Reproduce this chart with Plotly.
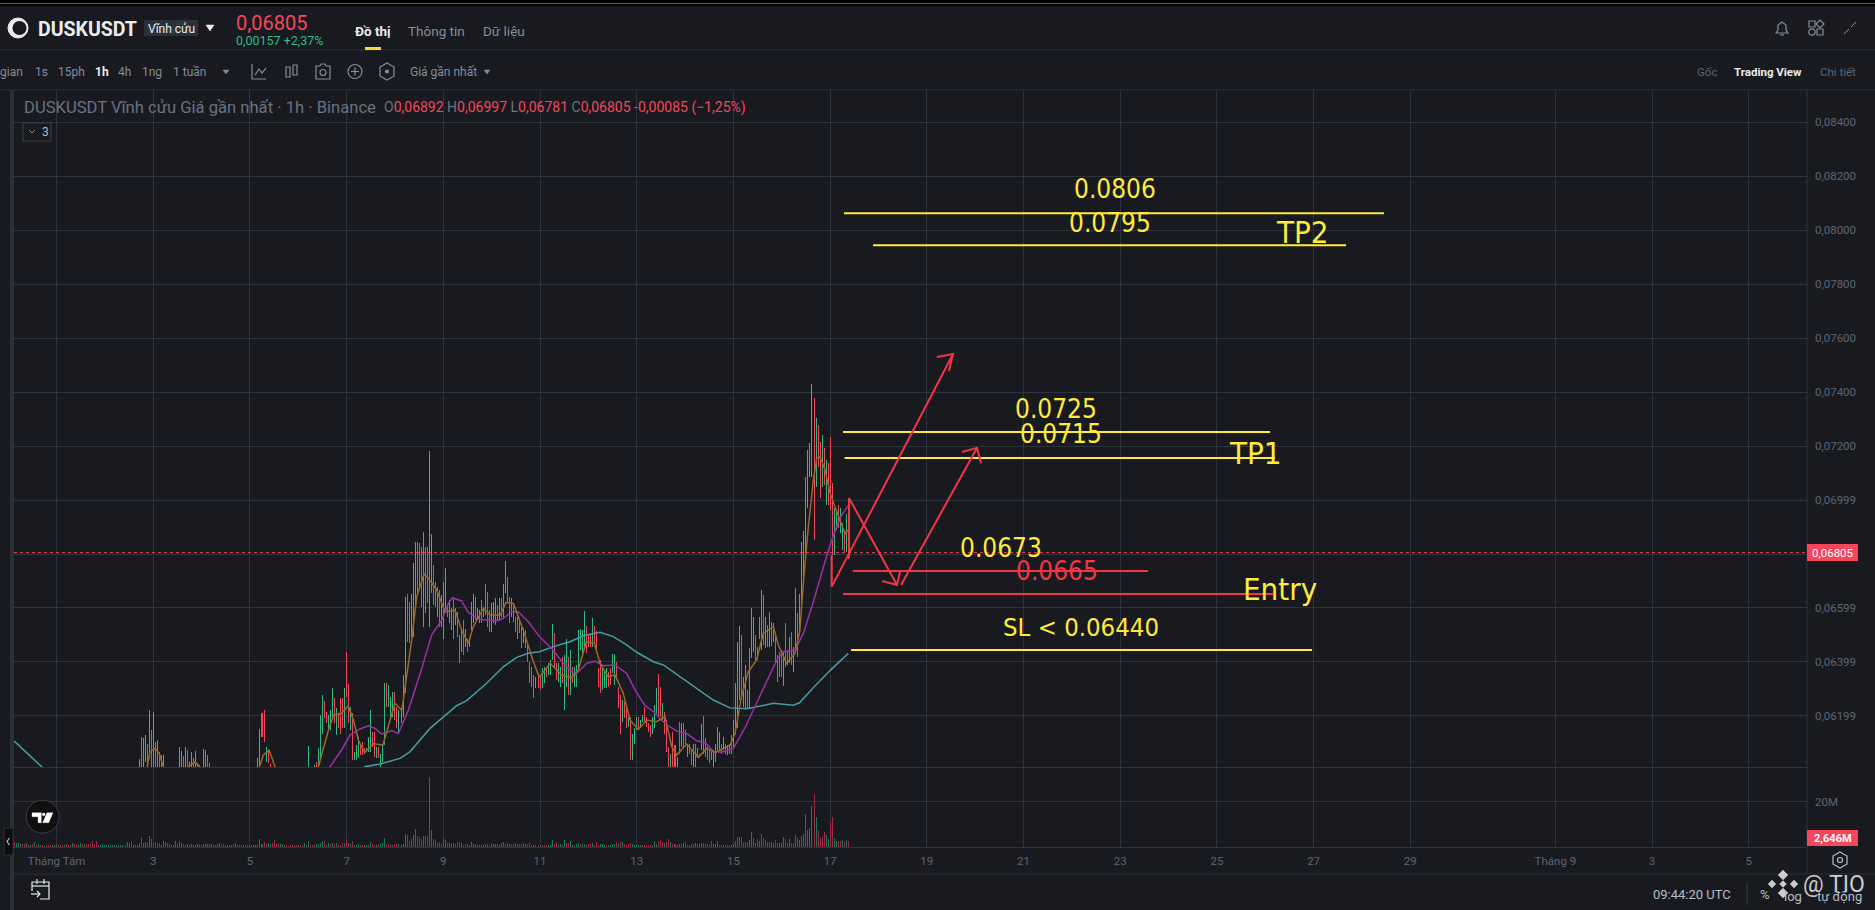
import pandas as pd
import plotly.graph_objects as go

W, H = 1875, 910
UI = "Roboto"
DRAW = "DejaVu Sans Condensed"
BG = "#181a20"
GRID = "#2d333d"
GREY = "#848e9c"
DIM = "#5e6673"
UP = "rgba(46,189,133,0.99)"
DOWN = "#f6465d"
DOWN_BAR = "rgba(246,70,93,0.99)"
VOL_UP = "rgba(28,122,92,0.99)"
VOL_DOWN = "rgba(158,42,68,0.99)"
YEL = "#ffeb3b"
RED = "#f23645"

# Hourly candles from 2025-08-02 17:00 to 2025-08-17 09:00, prices in 1e-5 USDT
candle_start = "2025-08-02 17:00"
highs = [
 6039,6121,6117,6129,6096,6222,6148,6215,6105,6111,
 6068,6055,6055,5990,5990,5990,5990,5990,5990,5990,
 6084,6070,6052,6086,6074,6030,6068,6043,6070,6024,
 6018,5990,6077,6074,6055,6024,5990,5990,5990,5990,
 5990,5990,5990,5990,5990,5990,5990,5990,5990,5990,
 5990,5990,5990,5990,5990,5990,5990,5990,5990,6043,
 6151,6210,6222,6086,6074,6021,5990,5990,5990,5990,
 5990,5990,5990,5990,5990,5990,5990,5990,5990,5990,
 5990,5990,5990,5990,6089,5990,5990,6018,6030,6080,
 6203,6277,6255,6216,6203,6222,6302,6268,6228,6210,
 6265,6268,6302,6436,6318,6234,6210,6068,6092,6123,
 6098,6105,6080,6080,6123,6222,6142,6142,6086,6086,
 6061,6098,6324,6321,6315,6271,6290,6287,6234,6222,
 6228,6352,6642,6652,6623,6652,6765,6846,6846,6840,
 6827,6883,6827,6827,7181,6874,6759,6697,6679,6666,
 6648,6697,6747,6605,6630,6599,6636,6599,6586,6500,
 6518,6555,6521,6487,6494,6623,6652,6642,6599,6592,
 6630,6605,6689,6660,6592,6617,6623,6636,6611,6636,
 6636,6689,6774,6713,6642,6636,6617,6568,6586,6555,
 6531,6525,6518,6469,6401,6382,6352,6345,6358,6352,
 6376,6382,6376,6395,6407,6541,6506,6395,6395,6382,
 6419,6426,6484,6419,6444,6382,6382,6389,6518,6521,
 6518,6589,6533,6500,6506,6562,6533,6516,6376,6407,
 6376,6370,6376,6364,6376,6429,6429,6401,6308,6277,
 6259,6253,6240,6197,6197,6135,6154,6197,6197,6185,
 6203,6234,6197,6173,6166,6197,6240,6302,6354,6308,
 6247,6216,6185,6086,6061,6142,6092,6049,6179,6173,
 6175,6148,6098,6098,6074,6098,6098,6080,6061,6170,
 6200,6117,6086,6074,6074,6074,6098,6158,6142,6098,
 6123,6098,6092,6096,6129,6185,6321,6475,6533,6500,
 6345,6389,6296,6451,6599,6568,6500,6457,6568,6667,
 6648,6568,6537,6586,6549,6543,6500,6426,6438,6444,
 6438,6543,6444,6494,6512,6457,6673,6580,6652,6845,
 6885,7086,7185,7210,7430,7377,7302,7278,7216,7241,
 7191,7148,7136,7234,7062,6969,6963,6981,6969,6913,
 6889,6948,6997]
lows = [
 5990,5990,5995,6030,6000,6043,6000,6000,6000,6000,
 6000,6000,6000,5950,5950,5950,5950,5950,5950,5950,
 6000,6000,6000,6000,6000,6000,6000,6000,6000,6000,
 6000,5950,6000,6000,6000,6000,5950,5950,5950,5950,
 5950,5950,5950,5950,5950,5950,5950,5950,5950,5950,
 5950,5950,5950,5950,5950,5950,5950,5950,5950,5990,
 5990,6123,6105,6030,6024,6000,5950,5950,5950,5950,
 5950,5950,5950,5950,5950,5950,5950,5950,5950,5950,
 5950,5950,5950,5950,5990,5950,5950,5990,5990,5990,
 6037,6135,6191,6175,6142,6148,6197,6173,6129,6154,
 6135,6154,6154,6271,6173,6148,6037,6037,6037,6043,
 6055,6055,6061,6068,6068,6068,6086,6049,6043,6043,
 6000,6030,6092,6234,6234,6185,6197,6185,6154,6135,
 6173,6197,6284,6475,6469,6494,6494,6592,6654,6666,
 6605,6531,6580,6617,6531,6654,6611,6605,6568,6531,
 6531,6485,6593,6568,6545,6518,6485,6537,6494,6395,
 6438,6426,6457,6438,6457,6518,6543,6555,6555,6543,
 6543,6568,6574,6531,6512,6512,6543,6537,6555,6553,
 6568,6561,6654,6617,6543,6568,6549,6512,6484,6506,
 6450,6469,6450,6401,6321,6308,6268,6302,6302,6296,
 6302,6321,6345,6352,6352,6407,6382,6333,6327,6308,
 6321,6222,6308,6277,6277,6321,6308,6308,6370,6444,
 6426,6457,6432,6457,6457,6457,6463,6432,6308,6286,
 6296,6302,6302,6308,6315,6358,6315,6339,6228,6132,
 6179,6191,6154,6160,6037,6037,6098,6148,6154,6154,
 6179,6179,6160,6142,6123,6135,6154,6203,6197,6197,
 6185,6135,6068,6012,6012,6012,6012,6012,6061,6086,
 6086,6098,6049,6061,6018,6012,6012,6043,6049,6074,
 6061,6049,6037,6024,6037,6012,6030,6074,6074,6061,
 6074,6061,6055,6061,6061,6086,6135,6154,6259,6259,
 6234,6228,6228,6228,6413,6438,6407,6407,6487,6444,
 6463,6450,6457,6457,6459,6475,6395,6327,6345,6345,
 6312,6382,6389,6395,6389,6364,6432,6420,6500,6617,
 6691,6802,6969,7086,7086,6852,7049,7123,7006,7049,
 7055,6981,6981,6963,6796,6796,6889,6895,6876,6815,
 6808,6808,6781]
candle_dir = list(
 "grggrgrgrg" "rrgrgrgrgr" "ggrgrggrgr" "rgggrrgrgr" "grgrgrgrgr" "grgrgrgrgg"
 "grrgrrgrgr" "grgrgrgrgr" "grgrgrggrg" "ggrrgggrgr" "rrgrrgrggg" "rrrgggrrgr"
 "gggrgggrrg" "gggrrgggrr" "rgrrggrrgr" "gggrggrgrr" "grgrgggrgg" "rgrrrgggrg"
 "rggrrgrrrr" "rgrrrrrgrr" "ggrgggrrgg" "rggrgrgggg" "ggrrrgrrrr" "gggrrggrrr"
 "grrgrgggrg" "grrrrgggrr" "grrrgrrgrg" "rrgrrgrrrg" "rrrrgggggr" "grggrggggr"
 "ggrgggrrgg" "rgrgrgrrrr" "grrgrggrgg" "gggggrgrrg" "rgrrrggrgg" "rgr")

# Hourly volume from 2025-07-31 02:00, in millions
volume_start = "2025-07-31 02:00"
volumes = [
 1.0,2.1,1.8,1.6,1.3,1.2,1.5,1.9,1.0,1.1,
 1.2,2.2,.9,1.3,.8,.7,.6,1.0,1.1,.8,
 .7,.7,1.2,.8,.9,.7,1.0,1.3,1.0,.8,
 1.8,1.3,.9,1.0,1.9,1.2,1.2,1.3,1.2,1.3,
 2.7,.9,2.7,1.0,.7,1.2,1.0,.9,.9,.9,
 .9,.9,1.0,.9,.9,1.0,.9,2.4,1.6,2.7,
 .9,1.0,1.0,1.8,4.5,1.8,2.2,1.7,4.9,3.4,
 1.6,2.2,1.8,1.7,1.0,2.7,2.2,1.8,1.2,.8,
 .7,2.7,1.2,2.7,1.9,1.3,1.1,1.5,1.0,1.3,
 1.0,.8,1.2,.9,.9,1.2,1.3,1.3,1.3,1.3,
 1.0,.9,1.3,1.8,.9,1.2,.8,1.0,1.0,.9,
 1.2,1.8,.7,.7,.7,.7,.7,.7,.7,1.0,
 .9,.8,1.0,3.5,1.3,2.1,1.3,1.6,1.2,1.7,
 3.0,1.2,1.3,1.2,1.2,.9,.7,.6,.8,.8,
 .8,.8,1.0,.9,.9,1.8,.8,2.7,.9,.8,
 1.0,1.3,1.5,2.0,2.7,2.5,1.0,1.8,1.2,1.8,
 1.3,1.8,.9,1.0,1.8,1.8,3.6,1.8,1.5,2.7,
 .9,.9,1.3,.9,.9,.9,.9,.9,2.4,1.2,
 .9,.9,1.3,1.3,1.8,4.0,1.3,1.3,.9,.9,
 1.3,1.3,1.3,.9,1.5,5.8,5.4,2.7,3.6,5.4,
 8.0,5.0,4.5,3.6,5.0,5.0,5.0,31.2,7.6,3.6,
 3.2,1.8,2.2,1.4,3.6,3.2,1.8,1.8,1.4,1.8,
 1.5,2.2,2.2,1.8,.9,1.3,1.3,.9,2.2,1.3,
 1.3,.9,.9,.9,.9,1.3,1.3,.9,1.8,1.3,
 1.3,1.3,.9,1.8,2.2,1.3,1.8,1.3,1.3,1.3,
 1.8,1.3,1.3,1.3,1.8,1.3,1.3,1.8,.9,.9,
 1.0,.9,.9,.9,.9,.9,.9,.9,3.1,1.3,
 2.2,.9,1.3,.9,3.1,1.8,1.8,2.7,.9,.9,
 1.3,1.8,1.3,1.3,1.3,.9,1.3,1.3,1.8,1.0,
 2.2,.9,1.3,1.3,.9,.9,.9,.9,1.3,1.3,
 2.2,1.3,2.2,2.2,1.3,.9,1.3,1.8,1.3,.9,
 .9,.9,.9,.9,.9,.9,.9,.9,.9,2.7,
 1.3,2.7,3.1,2.2,1.8,2.2,3.6,2.2,1.3,1.3,
 .9,1.3,1.3,1.8,2.2,.9,.9,1.3,1.3,1.8,
 1.3,1.3,1.8,1.8,1.3,1.3,1.3,2.7,1.3,1.3,
 2.7,.9,.9,.9,.9,.9,.9,.9,1.3,2.7,
 4.5,4.5,4.5,2.2,2.2,2.2,3.1,6.7,4.0,1.8,
 3.6,2.7,5.8,4.0,3.1,2.2,2.2,2.2,1.8,3.1,
 1.8,1.8,1.8,4.5,3.6,1.8,3.6,1.8,1.8,5.4,
 4.0,3.1,5.0,5.8,14.8,7.6,8.4,18.2,23.7,13.3,
 7.1,4.0,4.5,6.7,5.4,3.6,11.1,13.3,4.0,2.7,
 2.7,2.7,3.1,2.2,3.1,2.65]
volume_dir = list(
 "grgggrrgrg" "rgrgrrgrrr" "ggrgrrgrrr" "grrggrgrrr" "rrrrgggggg" "ggrgggrggr"
 "ggggrggrgg" "rrrrggrrrr" "gggggrrrgg" "grggrggggg" "rrggrrrgrg" "rgrrrrrrrg"
 "gggggrrggr" "rrrggrrrrr" "rrgrrgrgrr" "rggggrggrg" "rgrrrgrrgr" "gggrrggrgr"
 "rgrgggrrgr" "rrggggrrgg" "grrrgrrggr" "rrrrggrggr" "rrrgrrrggg" "rrrrgrrrrg"
 "gggggrrgrr" "rrrrrgrrrg" "rrrgrrgggr" "rggrgrrggr" "ggrggrrrgr" "rrgggrgggg"
 "rgrgrrrrgg" "gggrrrrrrg" "grrrgrrgrr" "ggrgrrrrrg" "rggrrrrrgg" "grrrrrgggg"
 "ggrrrrgggr" "rggrrggggr" "rgggrrgrgg" "ggggggggrg" "rrrrggrrgg" "rrgrgr")

# Moving averages read at knots: hours after 2025-08-01 00:00, prices in 1e-5 USDT
ma7_hours = [45,46.4,49,51,53,54,64,65.5,68.7,71,72,99,100.7,102.7,105.5,108.5,110,128,130,135,137.5,141.5,144.8,147.4,149.8,153,157.3,162,164.7,168,171.4,173.8,176.3,178.8,182.4,184.6,188.7,192.8,197.8,201.1,204.4,206.9,211.9,215.2,220.2,223.1,226.8,231.7,236.7,239.7,245,250.7,255.7,259,263,267,269.8,273.9,277.2,281.3,284.7,288.8,293,297.9,302,305.4,307.8,312.8,318.6,322.7,326.9,334.3,336.8,340,343.4,347.5,350.8,355.8,358.3,362.4,366.6,369,370.7,373.2,375.7,377.3,379,381.5,384,386.4,388.9,391.4,392.9]
ma7_values = [6012,6067,6080,6061,6012,5980,5980,6012,6030,6012,5980,5980,6012,6055,6074,6012,5980,5980,6012,6148,6203,6210,6237,6185,6111,6064,6098,6092,6160,6247,6220,6345,6481,6642,6726,6710,6667,6586,6592,6518,6469,6531,6599,6574,6574,6620,6617,6518,6401,6343,6395,6352,6342,6370,6475,6469,6395,6345,6352,6284,6185,6150,6185,6179,6197,6086,6055,6096,6047,6080,6065,6092,6135,6271,6364,6407,6506,6531,6463,6395,6432,6518,6691,6901,7074,7154,7160,7111,7025,6975,6926,6876,6889]
ma25_hours = [130,135.8,141.5,145.7,150.7,154.8,158.1,161.4,166.4,169.7,174.7,181.3,186.2,191.2,194.5,196.5,201.1,204.4,209.4,218.5,221.8,226,229.2,234.2,239.7,245.8,251.6,257.4,263.2,267.3,271.4,277.2,283,287.2,292,296.9,302,307.8,312.8,317.8,322,326.2,330.4,336,342,347.5,353.3,357.5,360.8,366.6,370.7,375.7,380.7,384.8,388.9,393]
ma25_values = [5980,6012,6074,6129,6152,6164,6154,6133,6145,6135,6222,6376,6500,6555,6617,6638,6626,6583,6558,6553,6562,6586,6586,6549,6494,6450,6395,6352,6395,6403,6386,6389,6358,6296,6240,6212,6172,6144,6135,6108,6101,6067,6067,6080,6160,6247,6345,6407,6438,6444,6506,6623,6753,6852,6932,6981]
ma99_hours = [-21,-7.2,-5,150,153,160.6,170.5,175.5,185.4,192,198.6,203.6,213.5,221.8,228.4,234.2,239.7,246.6,254.9,261.5,269.8,276.4,283,288,296.3,301.2,307.8,319.4,326,334.3,342.6,347.5,355.8,365.7,368.8,375.5,384.2,393]
ma99_values = [6107,6011,5985,5985,6012,6022,6043,6068,6154,6197,6238,6257,6321,6382,6417,6432,6438,6457,6475,6497,6510,6494,6463,6436,6401,6389,6355,6296,6259,6230,6227,6234,6247,6240,6249,6304,6370,6432]

# Hand-drawn levels: price, start, end
level_prices = [8062, 7944, 7252, 7156, 6737, 6652, 6444]
level_starts = ["2025-08-17 06:54","2025-08-17 21:18","2025-08-17 06:24","2025-08-17 07:12","2025-08-17 11:18","2025-08-17 06:24","2025-08-17 10:24"]
level_ends = ["2025-08-28 10:54","2025-08-27 16:06","2025-08-26 02:24","2025-08-26 04:48","2025-08-23 13:48","2025-08-26 03:48","2025-08-26 23:12"]
level_colors = [YEL, YEL, YEL, YEL, RED, RED, YEL]

# Hand-drawn arrows (date, price), each a polyline
arrow_up_long_t = ["2025-08-17 00:48","2025-08-19 13:00","2025-08-19 05:00","2025-08-19 13:00","2025-08-19 11:00"]
arrow_up_long_p = [6679,7541,7530,7541,7478]
arrow_up_short_t = ["2025-08-18 11:12","2025-08-20 00:54","2025-08-19 17:30","2025-08-20 00:54","2025-08-20 02:54"]
arrow_up_short_p = [6685,7193,7178,7193,7137]
arrow_down_t = ["2025-08-17 09:24","2025-08-17 09:24","2025-08-17 09:24","2025-08-18 09:12","2025-08-18 01:48","2025-08-18 09:12","2025-08-18 10:42"]
arrow_down_p = [6785,7007,7007,6685,6700,6685,6733]
stroke_left_t = ["2025-08-17 00:48","2025-08-17 00:48"]
stroke_left_p = [6679,6796]

price_ticks = [8400,8200,8000,7800,7600,7400,7200,7000,6800,6600,6400,6200]
price_labels = ["0,08400","0,08200","0,08000","0,07800","0,07600","0,07400","0,07200","0,06999","0,06799","0,06599","0,06399","0,06199"]
date_ticks = ["2025-08-01","2025-08-03","2025-08-05","2025-08-07","2025-08-09","2025-08-11","2025-08-13","2025-08-15","2025-08-17","2025-08-19","2025-08-21","2025-08-23","2025-08-25","2025-08-27","2025-08-29","2025-09-01","2025-09-03","2025-09-05"]
date_labels = ["Tháng Tám","3","5","7","9","11","13","15","17","19","21","23","25","27","29","Tháng 9","3","5"]

base = pd.Timestamp("2025-08-01")
to_time = lambda hs: [base + pd.Timedelta(hours=h) for h in hs]
candle_x = pd.date_range(candle_start, periods=len(highs), freq="h")
vol_x = pd.date_range(volume_start, periods=len(volumes), freq="h")
BAR_W = 0.5 * 3600 * 1000

fig = go.Figure()
fig.add_trace(go.Bar(x=candle_x, base=lows, y=[h - l for h, l in zip(highs, lows)], width=BAR_W,
                     marker=dict(color=[UP if d == "g" else DOWN_BAR for d in candle_dir], line_width=0),
                     name="DUSKUSDT", xaxis="x", yaxis="y"))
for hs, vs, col in [(ma99_hours, ma99_values, "#459ea3"), (ma25_hours, ma25_values, "#9b2fa8"), (ma7_hours, ma7_values, "#9a6a28")]:
    fig.add_trace(go.Scatter(x=to_time(hs), y=vs, mode="lines", line=dict(color=col, width=1.5), xaxis="x", yaxis="y"))
fig.add_trace(go.Bar(x=vol_x, y=volumes, width=BAR_W,
                     marker=dict(color=[VOL_UP if d == "g" else VOL_DOWN for d in volume_dir], line_width=0),
                     xaxis="x2", yaxis="y2"))
for p, s, e, c in zip(level_prices, level_starts, level_ends, level_colors):
    fig.add_trace(go.Scatter(x=[s, e], y=[p, p], mode="lines", line=dict(color=c, width=2), xaxis="x", yaxis="y"))
for t, p in [(arrow_up_long_t, arrow_up_long_p), (arrow_up_short_t, arrow_up_short_p), (arrow_down_t, arrow_down_p), (stroke_left_t, stroke_left_p)]:
    fig.add_trace(go.Scatter(x=t, y=p, mode="lines", line=dict(color=RED, width=2), xaxis="x", yaxis="y"))

shapes, notes = [], []
px = lambda x: x / W
py = lambda y: 1 - y / H

def line(x0, y0, x1, y1, color=GRID, w=1, dash=None):
    shapes.append(dict(type="line", xref="paper", yref="paper", x0=px(x0), y0=py(y0), x1=px(x1), y1=py(y1),
                       line=dict(color=color, width=w, dash=dash), layer="above"))

def rect(x0, y0, x1, y1, fill, border=None, w=0):
    shapes.append(dict(type="rect", xref="paper", yref="paper", x0=px(x0), y0=py(y0), x1=px(x1), y1=py(y1),
                       fillcolor=fill, line=dict(color=border or fill, width=w), layer="above"))

def circle(cx, cy, r, fill="rgba(0,0,0,0)", border=GREY, w=1.2):
    shapes.append(dict(type="circle", xref="paper", yref="paper", x0=px(cx - r), y0=py(cy + r), x1=px(cx + r), y1=py(cy - r),
                       fillcolor=fill, line=dict(color=border, width=w), layer="above"))

def poly(pts, fill=None, border=GREY, w=1.2, closed=False):
    d = "M" + " L".join(f"{px(a):.5f},{py(b):.5f}" for a, b in pts) + (" Z" if closed else "")
    shapes.append(dict(type="path", xref="paper", yref="paper", path=d, fillcolor=fill or "rgba(0,0,0,0)",
                       line=dict(color=border, width=w), layer="above"))

def text(x, y, s, size=12, color=GREY, anchor="left", family=UI):
    notes.append(dict(xref="paper", yref="paper", x=px(x), y=py(y), text=s, showarrow=False, xanchor=anchor, yanchor="middle",
                      font=dict(size=size, color=color, family=family), borderpad=0, borderwidth=0))

# frame
rect(0, 0, W, 6, "#000000")
line(0, 3.5, W, 3.5, "#5a5f66", 1)
line(0, 50, W, 50, GRID)
line(0, 90, W, 90, GRID)
rect(10, 90, 14, H, "#2b2f36")
line(14, 874, W, 874, "#2b2f36")
line(1807, 90, 1807, 874, GRID)

# header
circle(18, 28, 10, "#eaecef", "#eaecef", 1)
circle(19.5, 28, 7, BG, BG, 0)
text(38, 30, "<b>DUSKUSDT</b>", 19.5, "#eaecef")
rect(144, 20, 198, 36, "#2b3139")
text(171, 29, "Vĩnh cửu", 12, "#eaecef", "center")
poly([(206, 25), (214, 25), (210, 31)], "#eaecef", "#eaecef", 0.5, True)
text(236, 23, "0,06805", 20, DOWN)
text(236, 41, "0,00157 +2,37%", 12.5, "#2ebd85")
text(355, 31, "<b>Đồ thị</b>", 13.5, "#eaecef")
rect(365, 47, 381, 50, "#fcd535")
text(408, 31, "Thông tin", 13.5, GREY)
text(483, 31, "Dữ liệu", 13.5, GREY)

# toolbar
for x, s in [(0, "gian"), (35, "1s"), (58, "15ph"), (118, "4h"), (142, "1ng"), (173, "1 tuần")]:
    text(x, 72, s, 12, GREY)
text(95, 72, "<b>1h</b>", 12, "#eaecef")
poly([(223, 70), (229, 70), (226, 74)], GREY, GREY, 0.5, True)
poly([(252, 64), (252, 79), (266, 79)])
poly([(255, 75), (259, 69), (262, 73), (266, 68)])
rect(286, 67, 290, 77, "rgba(0,0,0,0)", GREY, 1.2)
rect(293, 65, 297, 75, "rgba(0,0,0,0)", GREY, 1.2)
poly([(316, 66), (320, 66), (321, 64), (325, 64), (326, 66), (330, 66), (330, 79), (316, 79)], None, GREY, 1.2, True)
circle(323, 72.5, 3)
circle(355, 71.5, 7)
line(351, 71.5, 359, 71.5, GREY, 1.2)
line(355, 67.5, 355, 75.5, GREY, 1.2)
poly([(387, 63), (394, 67), (394, 76), (387, 80), (380, 76), (380, 67)], None, GREY, 1.2, True)
circle(387, 71.5, 1.5, GREY)
text(410, 72, "Giá gần nhất", 12, GREY)
poly([(484, 70), (490, 70), (487, 74)], GREY, GREY, 0.5, True)
text(1697, 72, "Gốc", 11.5, DIM)
text(1734, 72, "<b>Trading View</b>", 11.5, "#eaecef")
text(1820, 72, "Chi tiết", 11.5, DIM)

# top-right icons
poly([(1776, 33), (1778, 30), (1778, 25), (1782, 22), (1786, 25), (1786, 30), (1788, 33)], None, GREY, 1.2, True)
line(1780, 35, 1784, 35, GREY, 1.2)
rect(1809, 21, 1815, 27, "rgba(0,0,0,0)", GREY, 1.2)
poly([(1820, 20), (1824, 24), (1820, 28), (1816, 24)], None, GREY, 1.2, True)
circle(1812, 32, 3.2)
rect(1817, 29, 1823, 35, "rgba(0,0,0,0)", GREY, 1.2)
line(1844, 34, 1849, 29, GREY, 1)
line(1851, 27, 1856, 22, GREY, 1)

# title row
TITLE = "#6a7280"
text(24, 107, "DUSKUSDT Vĩnh cửu Giá gần nhất · 1h · Binance", 16.6, TITLE)
sp = lambda v: f'<span style="color:{DOWN}">{v}</span>'
text(384, 107, f"O{sp('0,06892')} H{sp('0,06997')} L{sp('0,06781')} C{sp('0,06805')} {sp('-0,00085 (−1,25%)')}", 14, TITLE)
rect(23, 123, 51, 141, BG, "#3a3f47", 1)
poly([(29, 130), (32, 133), (35, 130)], None, GREY, 1)
text(45, 132, "3", 12, "#b7bdc6", "center")

# chart labels
for x, y, s, c, z in [(1115, 189, "0.0806", YEL, 26), (1110, 223, "0.0795", YEL, 26), (1302, 232, "TP2", YEL, 31),
                      (1056, 409, "0.0725", YEL, 26), (1061, 434, "0.0715", YEL, 26), (1255, 453, "TP1", YEL, 31),
                      (1001, 548, "0.0673", YEL, 26), (1057, 571, "0.0665", RED, 26), (1280, 589, "Entry", YEL, 31),
                      (1081, 627, "SL &lt; 0.06440", YEL, 25.5)]:
    text(x, y, s, z, c, "center", DRAW)

# price and volume tags
rect(1807, 544, 1858, 561, DOWN)
text(1832.5, 552.5, "0,06805", 11.5, "#ffffff", "center")
rect(1807, 830, 1858, 846, DOWN)
text(1832.5, 838, "<b>2,646M</b>", 11, "#ffffff", "center")

# TradingView badge
circle(42.7, 816.7, 16.5, "#0f0f10", "#3a3e45", 1)
poly([(32, 812.7), (41.3, 812.7), (41.3, 822.7), (38, 822.7), (38, 816.7), (32, 816.7)], "#ffffff", "#ffffff", 0.3, True)
circle(43.7, 814.3, 1.6, "#ffffff", "#ffffff", 0)
poly([(47, 812.7), (53, 812.7), (48.7, 822.7), (42.7, 822.7)], "#ffffff", "#ffffff", 0.3, True)

# left handle and settings
rect(4, 828, 13, 855, "#0c0d10", "#2b2f36", 1)
poly([(9.5, 838), (7, 841.5), (9.5, 845)], None, "#b7bdc6", 1.2)
poly([(1840, 852), (1847, 856), (1847, 864), (1840, 868), (1833, 864), (1833, 856)], None, "#b7bdc6", 1.2, True)
circle(1840, 860, 2.5, "rgba(0,0,0,0)", "#b7bdc6", 1.2)

# bottom bar
poly([(32, 891), (32, 882), (49, 882), (49, 899), (40, 899)], None, "#eaecef", 1.2)
line(32, 886, 49, 886, "#eaecef", 1.2)
line(37, 879, 37, 884, "#eaecef", 1.2)
line(44, 879, 44, 884, "#eaecef", 1.2)
line(31, 894, 40, 894, "#eaecef", 1.2)
poly([(37, 891), (40, 894), (37, 897)], None, "#eaecef", 1.2)
text(1653, 894, "09:44:20 UTC", 13, "#b7bdc6")
line(1747, 883, 1747, 905, "#3a3f47", 1)
text(1765, 894, "%", 13, "#b7bdc6", "center")
text(1793, 896, "log", 13, "#b7bdc6", "center")
text(1839, 896, "tự động", 13, "#b7bdc6", "center")

# watermark
WM = "rgba(255,255,255,0.78)"
for cx, cy, r in [(1783, 875, 5), (1772, 884, 4), (1794, 884, 4), (1783, 884, 3.5), (1783, 893, 5)]:
    poly([(cx, cy - r), (cx + r, cy), (cx, cy + r), (cx - r, cy)], WM, WM, 0.3, True)
text(1803, 884, "@ TIO", 23, WM, "left", UI)

# current price line
shapes.append(dict(type="line", xref="paper", yref="y", x0=px(14), x1=px(1807), y0=6805, y1=6805,
                   line=dict(color=DOWN, width=1, dash="dot"), layer="above"))

axis_common = dict(showgrid=True, gridcolor=GRID, gridwidth=1, zeroline=False)
fig.update_layout(
    width=W, height=H, autosize=False, showlegend=False, bargap=0, barmode="overlay",
    margin=dict(l=0, r=0, t=0, b=0, pad=0), paper_bgcolor=BG, plot_bgcolor=BG,
    font=dict(family=UI, color=DIM, size=11.5),
    xaxis=dict(domain=[px(14), px(1807)], range=["2025-07-31 02:54", "2025-09-06 04:54"], anchor="y",
               tickmode="array", tickvals=date_ticks, ticktext=[""] * len(date_ticks), showline=True, linecolor=GRID, ticks="", **axis_common),
    yaxis=dict(domain=[py(767), py(91)], range=[6011, 8515], anchor="x", side="right", tickmode="array",
               tickvals=price_ticks, ticktext=price_labels, ticks="", ticklabelstandoff=7,
               tickfont=dict(size=11.5, color=DIM), **axis_common),
    xaxis2=dict(domain=[px(14), px(1807)], matches="x", anchor="y2", tickmode="array", tickvals=date_ticks, ticktext=date_labels,
                tickfont=dict(size=11.5, color=DIM), ticks="", ticklabelstandoff=3, showline=True, linecolor=GRID, **axis_common),
    yaxis2=dict(domain=[py(847), py(767)], range=[0, 35.55], anchor="x2", side="right", tickmode="array", tickvals=[20], ticktext=["20M"],
                ticks="", ticklabelstandoff=7, tickfont=dict(size=11.5, color=DIM), **axis_common),
    shapes=shapes, annotations=notes,
)

fig.write_html("out.html", config={"displayModeBar": False, "responsive": False},
               post_script="document.body.style.margin='0';document.body.style.overflow='hidden';document.body.style.background='#181a20';")
